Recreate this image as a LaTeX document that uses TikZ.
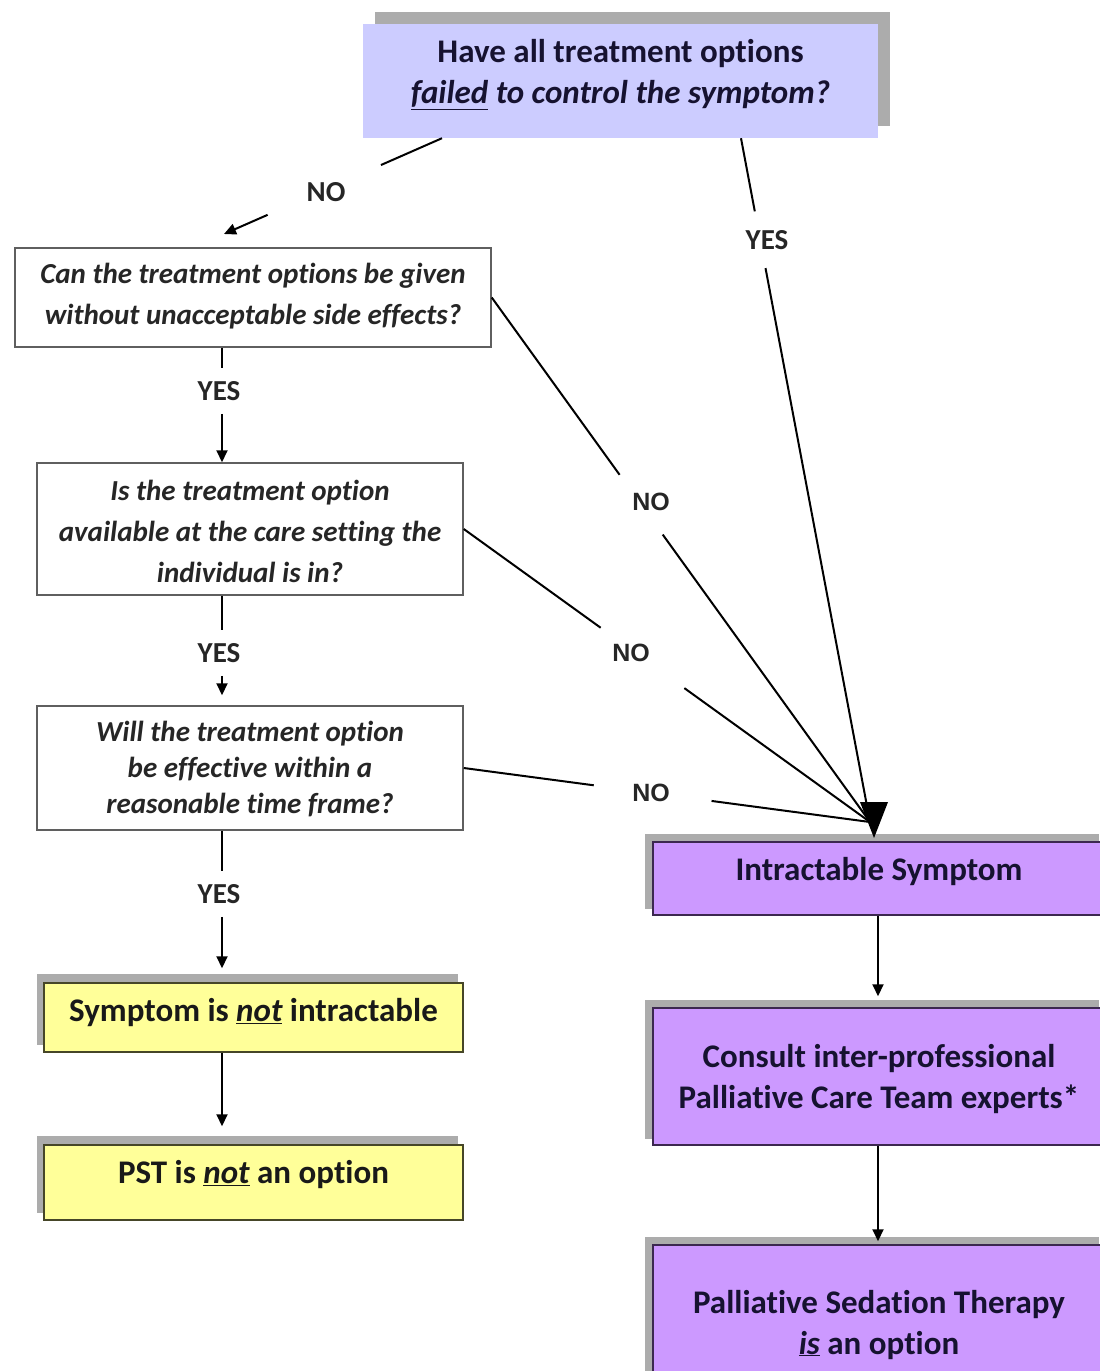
\documentclass[tikz,border=0pt]{standalone}
\usepackage{fontspec}
\setmainfont{Carlito}[Ligatures=NoCommon]
\newfontfamily\arialf{Liberation Sans}
\usetikzlibrary{calc,arrows.meta}
\definecolor{lav}{RGB}{204,204,255}
\definecolor{purp}{RGB}{204,153,255}
\definecolor{yel}{RGB}{255,255,153}
\definecolor{shad}{RGB}{172,172,172}
\definecolor{ink}{RGB}{22,18,48}
\definecolor{qline}{RGB}{95,95,95}
\pgfdeclarelayer{background}
\pgfsetlayers{background,main}
\begin{document}
\begin{tikzpicture}[x=1pt,y=-1pt,
  conn/.style={line width=2pt, draw=black},
  arr/.style={conn, -{Triangle[width=11pt,length=12pt]}},
  qbox/.style={draw=qline, line width=1.5pt, fill=white, rectangle, inner sep=0pt},
  topbox/.style={fill=lav, rectangle, inner sep=0pt},
  pbox/.style={draw={rgb,255:red,60;green,40;blue,80}, line width=1.5pt, fill=purp, rectangle, inner sep=0pt},
  ybox/.style={draw={rgb,255:red,70;green,70;blue,40}, line width=1.5pt, fill=yel, rectangle, inner sep=0pt},
  bigtext/.style={align=center, text=ink, inner sep=0pt, font=\fontsize{33}{41}\selectfont\bfseries},
  qtext/.style={align=center, text=black!85, inner sep=0pt, font=\fontsize{29}{41}\selectfont\bfseries\itshape},
  lab/.style={text=black!85, inner xsep=2pt, inner ysep=13pt, font=\fontsize{29}{29}\selectfont\bfseries},
  alab/.style={text=black!85, inner sep=2pt, font=\arialf\fontsize{25}{25}\selectfont\bfseries}
]
\useasboundingbox (0,0) rectangle (1100,1371);

% boxes
\node[topbox, minimum width=515pt, minimum height=114pt] (top) at (620.5,81) {};
\node[bigtext] (topt) at (620.5,74.5) {Have all treatment options\\\textit{\underline{failed} to control the symptom?}};

\node[qbox, minimum width=476pt, minimum height=99pt] (q1) at (253,297.5) {};
\node[qtext] (q1t) at (253,296.5) {Can the treatment options be given\\without unacceptable side effects?};

\node[qbox, minimum width=426pt, minimum height=132pt] (q2) at (250,529) {};
\node[qtext] (q2t) at (250,531.5) {Is the treatment option\\available at the care setting the\\individual is in?};

\node[qbox, minimum width=426pt, minimum height=124pt] (q3) at (250,768) {};
\node[qtext, font=\fontsize{29}{36}\selectfont\bfseries\itshape] (q3t) at (250,769) {Will the treatment option\\be effective within a\\reasonable time frame?};

\node[ybox, minimum width=419pt, minimum height=69pt] (y1) at (253.5,1017.5) {};
\node[bigtext, text=black!90] (y1t) at (253.5,1013) {Symptom is \textit{\underline{not}} intractable};

\node[ybox, minimum width=419pt, minimum height=75pt] (y2) at (253.5,1182.5) {};
\node[bigtext, text=black!90] (y2t) at (253.5,1175) {PST is \textit{\underline{not}} an option};

\node[pbox, minimum width=452pt, minimum height=73pt] (p1) at (879,878.5) {};
\node[bigtext] (p1t) at (879,872) {Intractable Symptom};

\node[pbox, minimum width=452pt, minimum height=137pt] (p2) at (879,1076.5) {};
\node[bigtext] (p2t) at (879,1079.5) {Consult inter-professional\\Palliative Care Team experts*};

\node[pbox, minimum width=452pt, minimum height=140pt] (p3) at (879,1315) {};
\node[bigtext] (p3t) at (879,1324.5) {Palliative Sedation Therapy\\\textit{\underline{is}} an option};

% shadows
\begin{pgfonlayer}{background}
\fill[shad] ($(top.south west)+(12,-12)$) rectangle ($(top.north east)+(12,-12)$);
\foreach \b in {y1,y2} {
  \fill[shad] ($(\b.south west)+(-6,-8)$) rectangle ($(\b.north east)+(-6,-8)$);
}
\foreach \b in {p1,p2,p3} {
  \fill[shad] ($(\b.south west)+(-7,-7)$) rectangle ($(\b.north east)+(-7,-7)$);
}
\end{pgfonlayer}

% coordinates
\coordinate (lx) at (222,0);
\coordinate (px) at (878,0);
\coordinate (noA) at ([xshift=-178.5pt]top.south);
\coordinate (noB) at (224,234);
\coordinate (yesA) at ([xshift=120.5pt]top.south);
\coordinate (hub) at (870,822);
\coordinate (tip) at (874,838);
\coordinate (n1A) at (q1.east);
\coordinate (n2A) at (q2.east);
\coordinate (n3A) at (q3.east);

% top NO
\draw[conn] (noA) -- ($(noA)!0.28!(noB)$);
\node[lab, inner sep=2pt] (no0) at (326,192) {NO};
\draw[arr] ($(noA)!0.80!(noB)$) -- (noB);

% top YES
\draw[conn] (yesA) -- ($(yesA)!0.107!(hub)$);
\node[lab, inner sep=2pt] (yes0) at (767,240) {YES};
\draw[conn] ($(yesA)!0.19!(hub)$) -- (hub);

% NO branches
\draw[conn] (n1A) -- ($(n1A)!0.338!(hub)$);
\node[alab] (no1) at (651,502) {NO};
\draw[conn] ($(n1A)!0.452!(hub)$) -- (hub);

\draw[conn] (n2A) -- ($(n2A)!0.337!(hub)$);
\node[alab] (no2) at (631,653) {NO};
\draw[conn] ($(n2A)!0.543!(hub)$) -- (hub);

\draw[conn] (n3A) -- ($(n3A)!0.32!(hub)$);
\node[alab] (no3) at (651,793) {NO};
\draw[conn] ($(n3A)!0.61!(hub)$) -- (hub);

\fill (tip) -- ++(-14,-36) -- ++(28,0) -- cycle;

% left column
\node[lab] (ya) at (219,391) {YES};
\draw[conn] (q1.south -| lx) -- (ya.north -| lx);
\draw[arr] (ya.south -| lx) -- (q2.north -| lx);

\node[lab] (yb) at (219,653) {YES};
\draw[conn] (q2.south -| lx) -- (yb.north -| lx);
\draw[arr, shorten >=10pt] (yb.south -| lx) -- (q3.north -| lx);

\node[lab] (yc) at (219,894) {YES};
\draw[conn] (q3.south -| lx) -- (yc.north -| lx);
\draw[arr, shorten >=14pt] (yc.south -| lx) -- (y1.north -| lx);

\draw[arr, shorten >=18pt] (y1.south -| lx) -- (y2.north -| lx);

% right column
\draw[arr, shorten >=11pt] (p1.south -| px) -- (p2.north -| px);
\draw[arr, shorten >=3pt] (p2.south -| px) -- (p3.north -| px);
\end{tikzpicture}
\end{document}
